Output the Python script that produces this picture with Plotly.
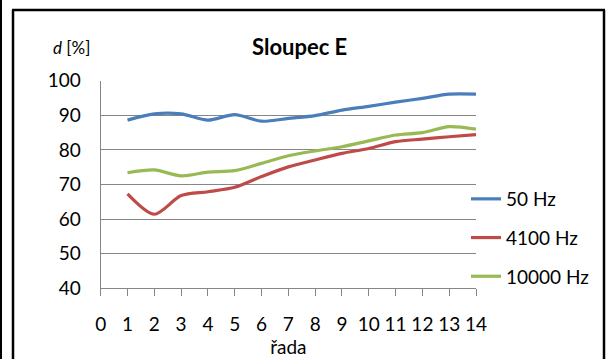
import plotly.graph_objects as go

W, H = 611, 359

rada = list(range(1, 15))
hz50 = [88.6, 90.4, 90.4, 88.6, 90.2, 88.3, 89.1, 89.9, 91.5, 92.6, 93.8, 94.9, 96.1, 96.1]
hz4100 = [67.3, 61.4, 66.8, 67.9, 69.2, 72.3, 75.1, 77.1, 79.0, 80.4, 82.4, 83.1, 83.8, 84.4]
hz10000 = [73.4, 74.2, 72.5, 73.6, 74.0, 76.1, 78.3, 79.7, 80.9, 82.6, 84.3, 85.0, 86.7, 86.0]
series_names = ["50 Hz", "4100 Hz", "10000 Hz"]
colors = ["#4A7EBB", "#BE4B48", "#98B954"]

y_ticks = [40, 50, 60, 70, 80, 90, 100]
x_ticks = list(range(0, 15))

FONT = "Lato"
FS = 19

fig = go.Figure()
for i, (name, vals) in enumerate(zip(series_names, [hz50, hz4100, hz10000])):
    fig.add_trace(go.Scatter(
        x=rada, y=vals, name=name, mode="lines",
        line=dict(color=colors[i], width=3.2, shape="spline", smoothing=0.8),
        legendgroup=f"g{i}",
    ))

def px_x(p):
    return p / W

def px_y(p):
    return 1 - p / H

fig.update_layout(
    width=W, height=H,
    margin=dict(l=0, r=0, t=0, b=0),
    paper_bgcolor="white", plot_bgcolor="white",
    font=dict(family=FONT, size=FS, color="#000000"),
    showlegend=True,
    legend=dict(
        x=px_x(466), y=px_y(180), xanchor="left", yanchor="top",
        font=dict(family=FONT, size=FS, color="#000000"),
        tracegroupgap=11, traceorder="grouped",
        bgcolor="rgba(0,0,0,0)", itemwidth=30,
    ),
    xaxis=dict(
        domain=[px_x(100.7), px_x(476)],
        range=[0, 14], tickmode="array", tickvals=x_ticks,
        ticktext=[str(v) for v in x_ticks],
        showgrid=False, zeroline=False, automargin=False,
        showline=True, linecolor="#868686", linewidth=1,
        ticks="outside", ticklen=7, tickcolor="#868686", tickwidth=1,
        ticklabelstandoff=12,
        tickfont=dict(family=FONT, size=FS),
        title=dict(text="řada", font=dict(family=FONT, size=FS), standoff=4),
    ),
    yaxis=dict(
        domain=[px_y(288.3), px_y(80.7)],
        range=[40, 100], tickmode="array", tickvals=y_ticks,
        ticktext=[str(v) for v in y_ticks],
        showgrid=True, gridcolor="#868686", gridwidth=1,
        zeroline=False, automargin=False,
        showline=True, linecolor="#868686", linewidth=1,
        ticks="", ticklabelstandoff=15,
        tickfont=dict(family=FONT, size=FS),
    ),
    annotations=[
        dict(text="<b>Sloupec E</b>", x=px_x(299), y=px_y(46), xref="paper", yref="paper",
             showarrow=False, xanchor="center", yanchor="middle",
             font=dict(family=FONT, size=22, color="#000000")),
        dict(text="<i>d</i> [%]", x=px_x(51), y=px_y(47), xref="paper", yref="paper",
             showarrow=False, xanchor="left", yanchor="middle",
             font=dict(family=FONT, size=17, color="#000000")),
    ],
    shapes=[
        dict(type="line", xref="paper", yref="paper", x0=px_x(13), x1=px_x(13), y0=px_y(10), y1=0,
             line=dict(color="#000000", width=2.5)),
        dict(type="line", xref="paper", yref="paper", x0=px_x(604), x1=px_x(604), y0=px_y(10), y1=0,
             line=dict(color="#000000", width=2.5)),
        dict(type="line", xref="paper", yref="paper", x0=px_x(12), x1=px_x(605), y0=px_y(10), y1=px_y(10),
             line=dict(color="#000000", width=2.5)),
        dict(type="line", xref="paper", yref="paper", x0=px_x(1), x1=px_x(1), y0=1, y1=0,
             line=dict(color="#000000", width=2)),
    ],
)

fig.write_html("out.html", config={"displayModeBar": False},
               post_script="document.body.style.margin='0';")
